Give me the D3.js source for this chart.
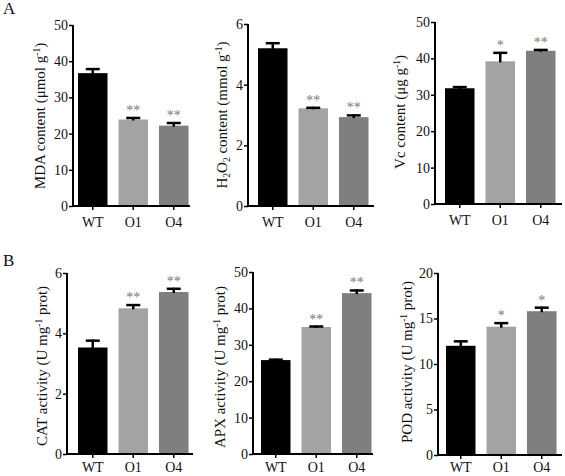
<!DOCTYPE html>
<html><head><meta charset="utf-8">
<script src="https://cdn.jsdelivr.net/npm/d3@7"></script>
<style>body{margin:0;background:#fff}svg text{font-family:"Liberation Serif","Times New Roman",Times,serif;fill:#111}</style>
</head><body><svg id="c" width="565" height="476"></svg>
<script>
const categories = ["WT", "O1", "O4"];
const mdaValues = [36.7, 23.9, 22.2];
const mdaErrors = [1.4, 0.7, 1.0];
const mdaSig = ["", "**", "**"];
const h2o2Values = [5.2, 3.22, 2.93];
const h2o2Errors = [0.2, 0.05, 0.09];
const h2o2Sig = ["", "**", "**"];
const vcValues = [31.8, 39.2, 42.1];
const vcErrors = [0.6, 2.6, 0.5];
const vcSig = ["", "*", "**"];
const catValues = [3.53, 4.83, 5.37];
const catErrors = [0.26, 0.14, 0.14];
const catSig = ["", "**", "**"];
const apxValues = [25.8, 34.9, 44.2];
const apxErrors = [0.4, 0.4, 1.0];
const apxSig = ["", "**", "**"];
const podValues = [12.0, 14.1, 15.8];
const podErrors = [0.6, 0.5, 0.5];
const podSig = ["", "*", "*"];
const mdaTicks = [0, 10, 20, 30, 40, 50];
const h2o2Ticks = [0, 2, 4, 6];
const vcTicks = [0, 10, 20, 30, 40, 50];
const catTicks = [0, 2, 4, 6];
const apxTicks = [0, 10, 20, 30, 40, 50];
const podTicks = [0, 5, 10, 15, 20];
const barColors = ["#000000", "#a3a3a3", "#7f7f7f"];

const FONT = '"Liberation Serif","Times New Roman",Times,serif';
const svg = d3.select("#c");

const panels = [
  {values: mdaValues, errors: mdaErrors, sig: mdaSig, ticks: mdaTicks, ax: 73, first: 78, end: 190, yTop: 25, y0: 206, lx: 11,
   title: [["MDA content  (μmol g",""],["-1","sup"],[")",""]], tx: 45, ty: 116},
  {values: h2o2Values, errors: h2o2Errors, sig: h2o2Sig, ticks: h2o2Ticks, ax: 248, first: 258, end: 374, yTop: 24, y0: 206, lx: 11,
   title: [["H",""],["2","sub"],["O",""],["2","sub"],[" content (mmol g",""],["-1","sup"],[")",""]], tx: 227, ty: 115},
  {values: vcValues, errors: vcErrors, sig: vcSig, ticks: vcTicks, ax: 435, first: 445, end: 562, yTop: 22, y0: 204, lx: 11,
   title: [["Vc content (μg g",""],["-1","sup"],[")",""]], tx: 405, ty: 112},
  {values: catValues, errors: catErrors, sig: catSig, ticks: catTicks, ax: 67, first: 78, end: 193, yTop: 273, y0: 454, lx: 8,
   title: [["CAT activity (U mg",""],["-1","sup"],[" prot)",""]], tx: 47, ty: 366},
  {values: apxValues, errors: apxErrors, sig: apxSig, ticks: apxTicks, ax: 253, first: 261, end: 373, yTop: 272, y0: 454, lx: 8,
   title: [["APX activity (U mg",""],["-1","sup"],[" prot)",""]], tx: 225, ty: 367},
  {values: podValues, errors: podErrors, sig: podSig, ticks: podTicks, ax: 438, first: 446, end: 562, yTop: 273, y0: 455, lx: 7,
   title: [["POD activity (U mg",""],["-1","sup"],[" prot)",""]], tx: 412, ty: 362},
];

panels.forEach(p => {
  const g = svg.append("g");
  const step = 40.5, bw = 29.5;
  const x = d3.scaleBand().domain(categories)
    .range([p.first, p.first + 3 * step - (step - bw)])
    .paddingInner((step - bw) / step).paddingOuter(0);
  const y = d3.scaleLinear().domain([0, d3.max(p.ticks)]).range([p.y0, p.yTop]);

  g.selectAll("rect.bar").data(categories).join("rect")
    .attr("x", d => x(d)).attr("width", x.bandwidth())
    .attr("y", (d, i) => y(p.values[i]))
    .attr("height", (d, i) => p.y0 - y(p.values[i]))
    .attr("fill", (d, i) => barColors[i]);

  categories.forEach((c, i) => {
    const cx = x(c) + x.bandwidth() / 2;
    const yt = y(p.values[i] + p.errors[i]);
    g.append("line").attr("x1", cx).attr("x2", cx).attr("y1", y(p.values[i]) + 1).attr("y2", yt)
      .attr("stroke", "#000").attr("stroke-width", 2.5);
    g.append("line").attr("x1", cx - 7).attr("x2", cx + 7).attr("y1", yt + 1).attr("y2", yt + 1)
      .attr("stroke", "#000").attr("stroke-width", 2.5);
    if (p.sig[i]) {
      g.append("text").attr("x", cx).attr("y", yt - 2)
        .attr("text-anchor", "middle").attr("font-size", 14)
        .style("fill", "#777").style("font-family", FONT)
        .text(p.sig[i]);
    }
  });

  const yAxis = d3.axisLeft(y).tickValues(p.ticks).tickSize(4).tickSizeOuter(0).tickFormat(d3.format("d"));
  const ya = g.append("g").attr("transform", `translate(${p.ax},0)`).call(yAxis);
  ya.attr("font-family", FONT);
  ya.select(".domain").attr("stroke-width", 2).attr("d", `M0,${p.y0 + 1}V${p.yTop}`);
  ya.selectAll(".tick line").attr("stroke-width", 1.5);
  ya.selectAll(".tick text").attr("font-size", 14).attr("x", -5).style("font-family", FONT).style("fill", "#111");

  const xAxis = d3.axisBottom(x).tickSize(4).tickSizeOuter(0);
  const xa = g.append("g").attr("transform", `translate(0,${p.y0})`).call(xAxis);
  xa.attr("font-family", FONT);
  xa.select(".domain").attr("stroke-width", 2).attr("d", `M${p.ax - 1},0H${p.end}`);
  xa.selectAll(".tick line").attr("stroke-width", 1.5);
  xa.selectAll(".tick text").attr("font-size", 14).attr("y", p.lx).style("font-family", FONT).style("fill", "#111");

  const t = g.append("text").attr("transform", `translate(${p.tx},${p.ty}) rotate(-90)`)
    .attr("text-anchor", "middle").attr("font-size", 15).style("font-family", FONT);
  p.title.forEach(([s, k]) => {
    const ts = t.append("tspan").text(s);
    if (k === "sup") ts.attr("font-size", 9.5).attr("baseline-shift", "5");
    if (k === "sub") ts.attr("font-size", 9.5).attr("baseline-shift", "-3");
  });
});

svg.append("text").attr("x", 3).attr("y", 14).attr("font-size", 17).style("font-family", FONT).text("A");
svg.append("text").attr("x", 3).attr("y", 266).attr("font-size", 17).style("font-family", FONT).text("B");
</script></body></html>
